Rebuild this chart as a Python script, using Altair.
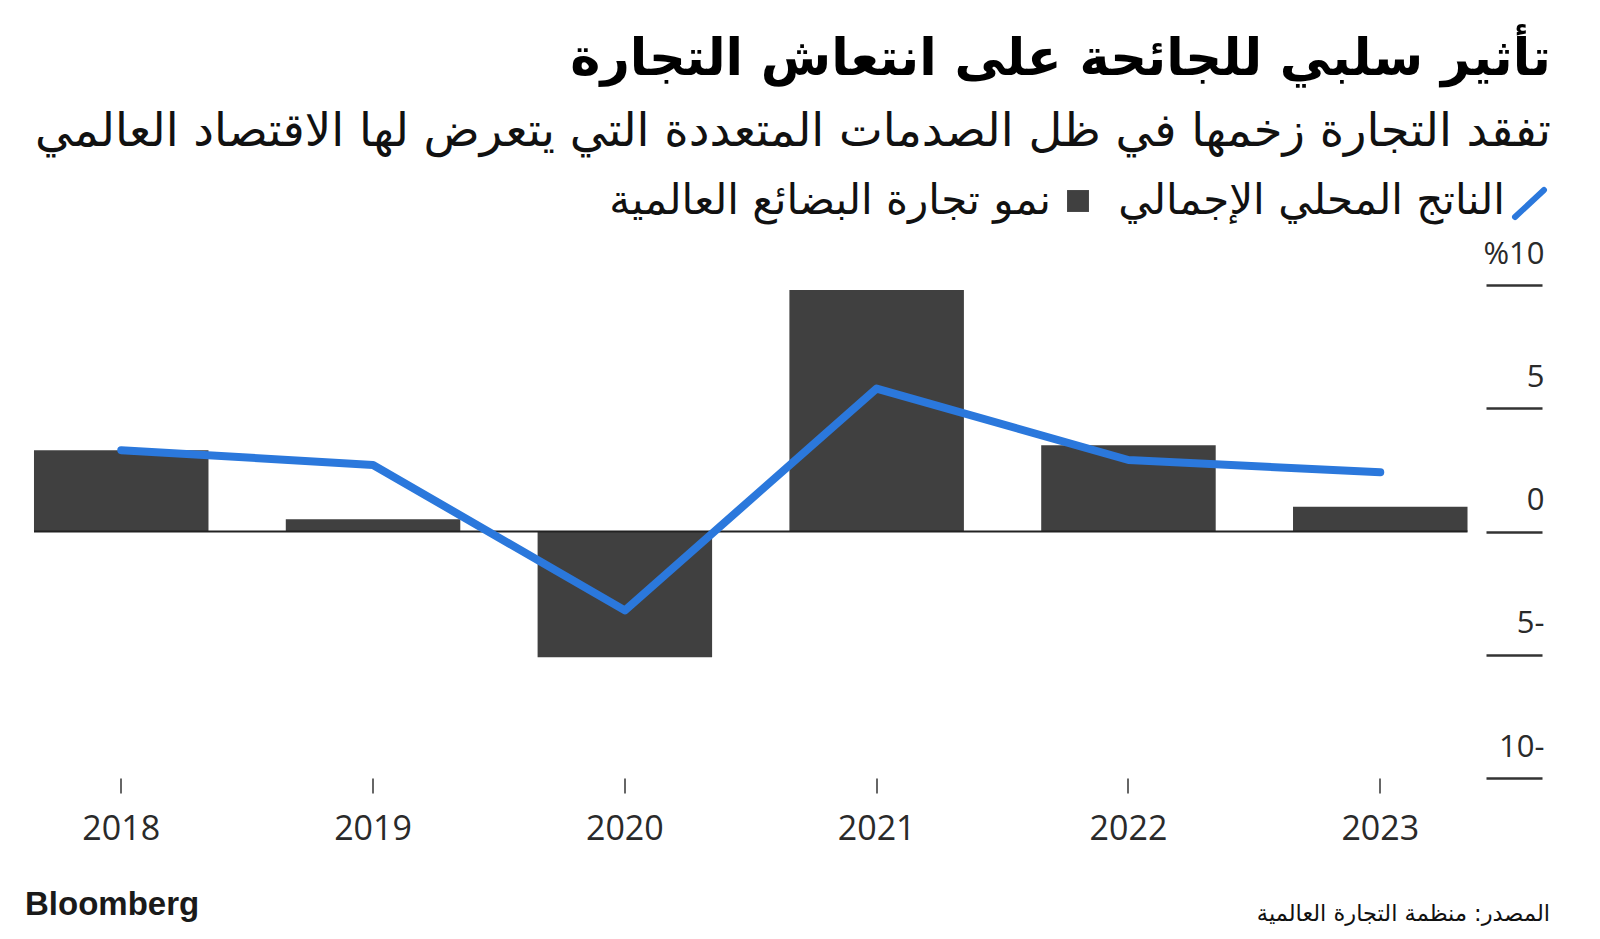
import altair as alt
import pandas as pd

years = ["2018", "2019", "2020", "2021", "2022", "2023"]
trade_growth = [3.3, 0.5, -5.1, 9.8, 3.5, 1.0]
gdp_growth = [3.3, 2.7, -3.2, 5.8, 2.9, 2.4]

y_ticks = [10, 5, 0, -5, -10]
y_tick_labels = ["%10", "5", "0", "5-", "10-"]

title_text = "تأثير سلبي للجائحة على انتعاش التجارة"
subtitle_text = "تفقد التجارة زخمها في ظل الصدمات المتعددة التي يتعرض لها الاقتصاد العالمي"
legend_gdp = "الناتج المحلي الإجمالي"
legend_trade = "نمو تجارة البضائع العالمية"
source_text = "المصدر: منظمة التجارة العالمية"
brand_text = "Bloomberg"

W = 1470.5
H = 493
BAR = "#404040"
BLUE = "#2b78dc"
AR_FONT = "DejaVu Sans"
NUM_FONT = "Open Sans"

df = pd.DataFrame({"year": years, "trade": trade_growth, "gdp": gdp_growth})

label_expr = " : ".join(
    f"datum.value == {v} ? '{l}'" for v, l in zip(y_ticks, y_tick_labels)
) + " : ''"

x_enc = alt.X(
    "year:N",
    scale=alt.Scale(paddingInner=0.307, paddingOuter=0.0734),
    axis=alt.Axis(
        title=None, domain=False, grid=False, tickSize=15, tickWidth=1.5,
        tickColor="#333", labelFont=NUM_FONT, labelFontSize=34,
        labelColor="#2a2a2a", labelPadding=19, labelAngle=0,
    ),
)

y_scale = alt.Scale(domain=[-10, 10], nice=False, zero=False)
y_axis = alt.Axis(
    orient="right", title=None, domain=False, grid=False,
    values=y_ticks, tickSize=56, tickWidth=2.5, tickColor="#333",
    labelAlign="right", labelBaseline="alphabetic", labelOffset=-22,
    labelPadding=2, labelFont=NUM_FONT, labelFontSize=31,
    labelColor="#2a2a2a", labelExpr=label_expr, labelOverlap=False,
    labelFlush=False, labelBound=False,
)

bars = alt.Chart(df).mark_bar(color=BAR).encode(
    x=x_enc,
    y=alt.Y("trade:Q", scale=y_scale, axis=y_axis),
    y2=alt.datum(0),
)

zero_line = alt.Chart(pd.DataFrame({"v": [0]})).mark_rule(
    color="#222", strokeWidth=2
).encode(
    y=alt.Y("v:Q", scale=y_scale, axis=y_axis),
    x=alt.value(18.5),
    x2=alt.value(W - 18.5),
)

line = alt.Chart(df).mark_line(
    color=BLUE, strokeWidth=8, strokeCap="round", strokeJoin="round"
).encode(
    x=x_enc,
    y=alt.Y("gdp:Q", scale=y_scale, axis=y_axis),
)


def text_layer(txt, x, y, size, font, align="right", weight="normal", color="#111"):
    return alt.Chart(pd.DataFrame({"t": [txt]})).mark_text(
        align=align, baseline="alphabetic", font=font, fontSize=size,
        fontWeight=weight, color=color,
    ).encode(text="t:N", x=alt.value(x), y=alt.value(y))


title = text_layer(title_text, 1535.5, -210, 51, AR_FONT, weight="bold", color="#000")
subtitle = text_layer(subtitle_text, 1535.5, -139, 46.5, AR_FONT, color="#111")
leg_gdp = text_layer(legend_gdp, 1489.5, -71, 42, AR_FONT, color="#111")
leg_trade = text_layer(legend_trade, 1035.5, -71, 42, AR_FONT, color="#111")
brand = text_layer(brand_text, 9.5, 630, 33, "Liberation Sans", align="left", weight="bold", color="#1a1a1a")
source = text_layer(source_text, 1534.5, 636, 22.5, AR_FONT, color="#111")

leg_square = alt.Chart(pd.DataFrame({"k": [0]})).mark_square(
    color=BAR, opacity=1, size=480
).encode(x=alt.value(1062.5), y=alt.value(-84))

leg_slash = alt.Chart(pd.DataFrame({"k": [0]})).mark_rule(
    color=BLUE, strokeWidth=6, strokeCap="round"
).encode(x=alt.value(1499.5), x2=alt.value(1528.5), y=alt.value(-68), y2=alt.value(-95))

chart = alt.layer(
    bars, zero_line, line, title, subtitle, leg_gdp, leg_trade, leg_square,
    leg_slash, brand, source,
).properties(
    width=W, height=H,
    autosize=alt.AutoSizeParams(type="none"),
    padding={"left": 7.5, "top": 277, "right": 100, "bottom": 150},
).configure_view(stroke=None)

chart.save("out.html", embed_options={"renderer": "svg", "actions": False})
